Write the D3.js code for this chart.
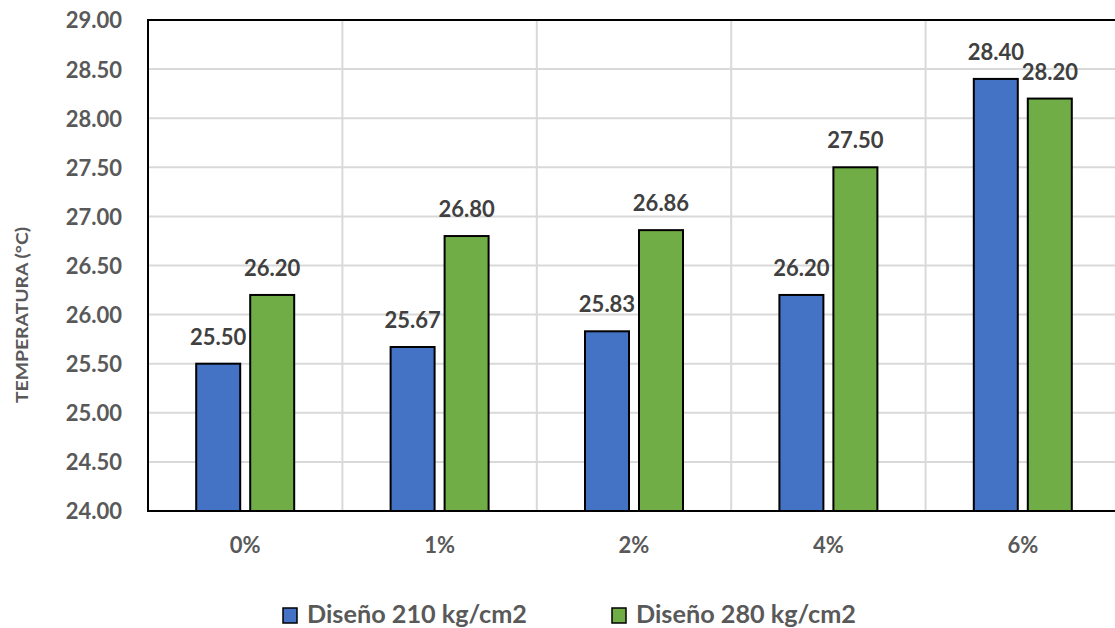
<!DOCTYPE html>
<html><head><meta charset="utf-8">
<script src="https://cdn.jsdelivr.net/npm/d3@7/dist/d3.min.js"></script>
<style>body{margin:0;background:#fff}svg{display:block}text{font-family:Lato,"Open Sans",sans-serif;font-weight:bold}</style>
</head><body><svg id="c" width="1115" height="628"></svg>
<script>
const categories = ["0%","1%","2%","4%","6%"];
const series210 = [25.50,25.67,25.83,26.20,28.40];
const series280 = [26.20,26.80,26.86,27.50,28.20];
const seriesNames = ["Diseño 210 kg/cm2","Diseño 280 kg/cm2"];
const yTicks = [24.00,24.50,25.00,25.50,26.00,26.50,27.00,27.50,28.00,28.50,29.00];
const colors = ["#4472C4","#70AD47"];

const svg = d3.select("#c");
const L=148, R=1120, T=20, B=511;
const x = d3.scaleBand().domain(categories).range([L,R]).padding(0);
const y = d3.scaleLinear().domain([24,29]).range([B,T]);
const g = svg.append("g");

// grid
g.selectAll(".hg").data(yTicks).enter().append("line")
 .attr("x1",L).attr("x2",R).attr("y1",d=>y(d)).attr("y2",d=>y(d))
 .attr("stroke","#d9d9d9").attr("stroke-width",2);
g.selectAll(".vg").data(categories.slice(1)).enter().append("line")
 .attr("x1",d=>x(d)).attr("x2",d=>x(d)).attr("y1",T).attr("y2",B)
 .attr("stroke","#d9d9d9").attr("stroke-width",2);

const bw=44, gap=10;
const data = categories.map((c,i)=>[{c,v:series210[i],k:0},{c,v:series280[i],k:1}]).flat();
const bx = d=> x(d.c)+x.bandwidth()/2 + (d.k===0 ? -gap/2-bw : gap/2);
g.selectAll(".bar").data(data).enter().append("rect")
 .attr("x",bx).attr("width",bw).attr("y",d=>y(d.v)).attr("height",d=>B-y(d.v))
 .attr("fill",d=>colors[d.k]).attr("stroke","#000").attr("stroke-width",2);
g.selectAll(".lbl").data(data).enter().append("text")
 .attr("x",d=>bx(d)+bw/2).attr("y",d=>y(d.v)-19).attr("text-anchor","middle")
 .attr("font-size",22).attr("fill","#404040").text(d=>d.v.toFixed(2));

// border
g.append("path").attr("d",`M${R},${T}H${L}V${B}H${R}`).attr("fill","none").attr("stroke","#000").attr("stroke-width",2);

// y axis labels
const ya = d3.axisLeft(y).tickValues(yTicks).tickFormat(d=>d.toFixed(2)).tickSize(0).tickPadding(26);
const yg = svg.append("g").attr("transform",`translate(${L},0)`).call(ya);
yg.select(".domain").remove();
yg.selectAll("text").attr("font-size",22).attr("fill","#595959").attr("font-family","Lato").attr("font-weight","bold").attr("dy","0.36em");

// x axis labels
const xa = d3.axisBottom(x).tickSize(0).tickPadding(26);
const xg = svg.append("g").attr("transform",`translate(0,${B})`).call(xa);
xg.select(".domain").remove();
xg.selectAll("text").attr("font-size",22).attr("fill","#595959").attr("font-family","Lato").attr("font-weight","bold").attr("dy","0.71em");

// y title
svg.append("text").attr("transform",`translate(28,315) rotate(-90)`)
 .attr("text-anchor","middle").attr("font-size",17).attr("fill","#595959")
 .attr("textLength",176).attr("lengthAdjust","spacingAndGlyphs").text("TEMPERATURA (°C)");

// legend
const lx=[283,612];
seriesNames.forEach((n,i)=>{
  svg.append("rect").attr("x",lx[i]).attr("y",608).attr("width",14).attr("height",15)
   .attr("fill",colors[i]).attr("stroke","#000").attr("stroke-width",1.5);
  svg.append("text").attr("x",lx[i]+24).attr("y",623).attr("font-size",25).attr("fill","#595959")
   .attr("textLength",220).attr("lengthAdjust","spacingAndGlyphs").text(n);
});
</script></body></html>
